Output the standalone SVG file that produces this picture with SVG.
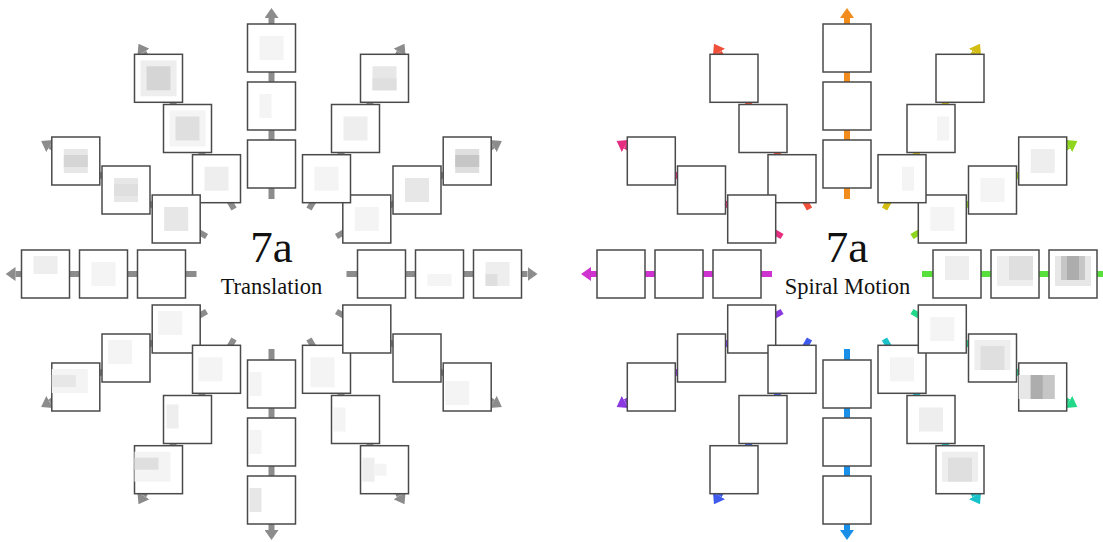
<svg xmlns="http://www.w3.org/2000/svg" width="1103" height="542" viewBox="0 0 1103 542">
<style>
.b{fill:#fff;stroke:#4a4a4a;stroke-width:1.5}
.c{stroke-width:6;fill:none}
.g1{fill:#f4f4f4}.g2{fill:#eeeeee}.g3{fill:#e7e7e7}.g4{fill:#dfdfdf}.g5{fill:#d5d5d5}.g6{fill:#c6c6c6}.g7{fill:#adadad}
.big{font-family:"Liberation Serif","Times New Roman",serif;font-size:45px;text-anchor:middle;fill:#111}
.lab{font-family:"Liberation Serif","Times New Roman",serif;font-size:22.5px;text-anchor:middle;fill:#111}
</style>
<defs>
<marker id="mg" markerUnits="userSpaceOnUse" markerWidth="10" markerHeight="14" viewBox="0 0 10 14" refX="0" refY="7" orient="auto"><path d="M0,0 L10,7 L0,14z" fill="#8c8c8c"/></marker>
<marker id="m0" markerUnits="userSpaceOnUse" markerWidth="10" markerHeight="14" viewBox="0 0 10 14" refX="0" refY="7" orient="auto"><path d="M0,0 L10,7 L0,14z" fill="#57e03c"/></marker>
<marker id="m30" markerUnits="userSpaceOnUse" markerWidth="10" markerHeight="14" viewBox="0 0 10 14" refX="0" refY="7" orient="auto"><path d="M0,0 L10,7 L0,14z" fill="#8ed61c"/></marker>
<marker id="m60" markerUnits="userSpaceOnUse" markerWidth="10" markerHeight="14" viewBox="0 0 10 14" refX="0" refY="7" orient="auto"><path d="M0,0 L10,7 L0,14z" fill="#d2bd10"/></marker>
<marker id="m90" markerUnits="userSpaceOnUse" markerWidth="10" markerHeight="14" viewBox="0 0 10 14" refX="0" refY="7" orient="auto"><path d="M0,0 L10,7 L0,14z" fill="#f28c1c"/></marker>
<marker id="m120" markerUnits="userSpaceOnUse" markerWidth="10" markerHeight="14" viewBox="0 0 10 14" refX="0" refY="7" orient="auto"><path d="M0,0 L10,7 L0,14z" fill="#f0503a"/></marker>
<marker id="m150" markerUnits="userSpaceOnUse" markerWidth="10" markerHeight="14" viewBox="0 0 10 14" refX="0" refY="7" orient="auto"><path d="M0,0 L10,7 L0,14z" fill="#e62e80"/></marker>
<marker id="m180" markerUnits="userSpaceOnUse" markerWidth="10" markerHeight="14" viewBox="0 0 10 14" refX="0" refY="7" orient="auto"><path d="M0,0 L10,7 L0,14z" fill="#cf33cf"/></marker>
<marker id="m210" markerUnits="userSpaceOnUse" markerWidth="10" markerHeight="14" viewBox="0 0 10 14" refX="0" refY="7" orient="auto"><path d="M0,0 L10,7 L0,14z" fill="#8a3ae0"/></marker>
<marker id="m240" markerUnits="userSpaceOnUse" markerWidth="10" markerHeight="14" viewBox="0 0 10 14" refX="0" refY="7" orient="auto"><path d="M0,0 L10,7 L0,14z" fill="#3f5bee"/></marker>
<marker id="m270" markerUnits="userSpaceOnUse" markerWidth="10" markerHeight="14" viewBox="0 0 10 14" refX="0" refY="7" orient="auto"><path d="M0,0 L10,7 L0,14z" fill="#1a8fe8"/></marker>
<marker id="m300" markerUnits="userSpaceOnUse" markerWidth="10" markerHeight="14" viewBox="0 0 10 14" refX="0" refY="7" orient="auto"><path d="M0,0 L10,7 L0,14z" fill="#19c2c8"/></marker>
<marker id="m330" markerUnits="userSpaceOnUse" markerWidth="10" markerHeight="14" viewBox="0 0 10 14" refX="0" refY="7" orient="auto"><path d="M0,0 L10,7 L0,14z" fill="#22d98a"/></marker>
</defs>
<rect width="1103" height="542" fill="#fff"/>

<g id="connectors">
<g transform="translate(271.5 274)" stroke="#8c8c8c">
<line class="c" x1="75" y1="0" x2="256" y2="0" transform="rotate(0)" marker-end="url(#mg)"/>
<line class="c" x1="75" y1="0" x2="256" y2="0" transform="rotate(-30)" marker-end="url(#mg)"/>
<line class="c" x1="75" y1="0" x2="256" y2="0" transform="rotate(-60)" marker-end="url(#mg)"/>
<line class="c" x1="75" y1="0" x2="256" y2="0" transform="rotate(-90)" marker-end="url(#mg)"/>
<line class="c" x1="75" y1="0" x2="256" y2="0" transform="rotate(-120)" marker-end="url(#mg)"/>
<line class="c" x1="75" y1="0" x2="256" y2="0" transform="rotate(-150)" marker-end="url(#mg)"/>
<line class="c" x1="75" y1="0" x2="256" y2="0" transform="rotate(-180)" marker-end="url(#mg)"/>
<line class="c" x1="75" y1="0" x2="256" y2="0" transform="rotate(-210)" marker-end="url(#mg)"/>
<line class="c" x1="75" y1="0" x2="256" y2="0" transform="rotate(-240)" marker-end="url(#mg)"/>
<line class="c" x1="75" y1="0" x2="256" y2="0" transform="rotate(-270)" marker-end="url(#mg)"/>
<line class="c" x1="75" y1="0" x2="256" y2="0" transform="rotate(-300)" marker-end="url(#mg)"/>
<line class="c" x1="75" y1="0" x2="256" y2="0" transform="rotate(-330)" marker-end="url(#mg)"/>
</g>
<g transform="translate(847 274)">
<line class="c" stroke="#57e03c" x1="75" y1="0" x2="256" y2="0" transform="rotate(0)" marker-end="url(#m0)"/>
<line class="c" stroke="#8ed61c" x1="75" y1="0" x2="256" y2="0" transform="rotate(-30)" marker-end="url(#m30)"/>
<line class="c" stroke="#d2bd10" x1="75" y1="0" x2="256" y2="0" transform="rotate(-60)" marker-end="url(#m60)"/>
<line class="c" stroke="#f28c1c" x1="75" y1="0" x2="256" y2="0" transform="rotate(-90)" marker-end="url(#m90)"/>
<line class="c" stroke="#f0503a" x1="75" y1="0" x2="256" y2="0" transform="rotate(-120)" marker-end="url(#m120)"/>
<line class="c" stroke="#e62e80" x1="75" y1="0" x2="256" y2="0" transform="rotate(-150)" marker-end="url(#m150)"/>
<line class="c" stroke="#cf33cf" x1="75" y1="0" x2="256" y2="0" transform="rotate(-180)" marker-end="url(#m180)"/>
<line class="c" stroke="#8a3ae0" x1="75" y1="0" x2="256" y2="0" transform="rotate(-210)" marker-end="url(#m210)"/>
<line class="c" stroke="#3f5bee" x1="75" y1="0" x2="256" y2="0" transform="rotate(-240)" marker-end="url(#m240)"/>
<line class="c" stroke="#1a8fe8" x1="75" y1="0" x2="256" y2="0" transform="rotate(-270)" marker-end="url(#m270)"/>
<line class="c" stroke="#19c2c8" x1="75" y1="0" x2="256" y2="0" transform="rotate(-300)" marker-end="url(#m300)"/>
<line class="c" stroke="#22d98a" x1="75" y1="0" x2="256" y2="0" transform="rotate(-330)" marker-end="url(#m330)"/>
</g>
</g>

<!-- Left panel: Translation -->
<g id="t0-3"><rect class="b" x="473.5" y="250" width="48" height="48"/><rect class="g2" x="485.5" y="262" width="24" height="24"/><rect class="g4" x="485.5" y="274" width="12" height="12"/></g>
<g id="t0-2"><rect class="b" x="415.5" y="250" width="48" height="48"/><rect class="g1" x="427.5" y="274" width="24" height="12"/></g>
<g id="t0-1"><rect class="b" x="357.5" y="250" width="48" height="48"/></g>

<g id="t30-3"><rect class="b" x="443.2" y="137" width="48" height="48"/><rect class="g4" x="455.2" y="149" width="24" height="24"/><rect class="g6" x="455.2" y="155" width="24" height="12"/></g>
<g id="t30-2"><rect class="b" x="393" y="166" width="48" height="48"/><rect class="g3" x="405" y="178" width="24" height="24"/></g>
<g id="t30-1"><rect class="b" x="342.8" y="195" width="48" height="48"/><rect class="g1" x="354.8" y="207" width="24" height="24"/></g>

<g id="t60-3"><rect class="b" x="360.5" y="54.3" width="48" height="48"/><rect class="g3" x="372.5" y="66.3" width="24" height="24"/><rect class="g4" x="372.5" y="78.3" width="24" height="12"/></g>
<g id="t60-2"><rect class="b" x="331.5" y="104.5" width="48" height="48"/><rect class="g2" x="343.5" y="116.5" width="24" height="24"/></g>
<g id="t60-1"><rect class="b" x="302.5" y="154.7" width="48" height="48"/><rect class="g1" x="314.5" y="166.7" width="24" height="24"/></g>

<g id="t90-3"><rect class="b" x="247.5" y="24" width="48" height="48"/><rect class="g1" x="259.5" y="36" width="24" height="24"/></g>
<g id="t90-2"><rect class="b" x="247.5" y="82" width="48" height="48"/><rect class="g1" x="259.5" y="94" width="12" height="24"/></g>
<g id="t90-1"><rect class="b" x="247.5" y="140" width="48" height="48"/></g>

<g id="t120-3"><rect class="b" x="134.5" y="54.3" width="48" height="48"/><rect class="g2" x="140.5" y="60.3" width="36" height="36"/><rect class="g5" x="146.5" y="66.3" width="24" height="24"/></g>
<g id="t120-2"><rect class="b" x="163.5" y="104.5" width="48" height="48"/><rect class="g1" x="169.5" y="110.5" width="36" height="36"/><rect class="g4" x="175.5" y="116.5" width="24" height="24"/></g>
<g id="t120-1"><rect class="b" x="192.5" y="154.7" width="48" height="48"/><rect class="g2" x="204.5" y="166.7" width="24" height="24"/></g>

<g id="t150-3"><rect class="b" x="51.8" y="137" width="48" height="48"/><rect class="g3" x="63.8" y="149" width="24" height="24"/><rect class="g5" x="63.8" y="155" width="24" height="12"/></g>
<g id="t150-2"><rect class="b" x="102" y="166" width="48" height="48"/><rect class="g3" x="114" y="178" width="24" height="24"/><rect class="g4" x="114" y="184" width="24" height="12"/></g>
<g id="t150-1"><rect class="b" x="152.2" y="195" width="48" height="48"/><rect class="g3" x="164.2" y="207" width="24" height="24"/></g>

<g id="t180-3"><rect class="b" x="21.5" y="250" width="48" height="48"/><rect class="g2" x="33.5" y="256" width="24" height="18"/></g>
<g id="t180-2"><rect class="b" x="79.5" y="250" width="48" height="48"/><rect class="g1" x="91.5" y="262" width="24" height="24"/></g>
<g id="t180-1"><rect class="b" x="137.5" y="250" width="48" height="48"/></g>

<g id="t210-3"><rect class="b" x="51.8" y="363" width="48" height="48"/><rect class="g1" x="51.8" y="369" width="36" height="24"/><rect class="g3" x="51.8" y="375" width="24" height="12"/></g>
<g id="t210-2"><rect class="b" x="102" y="334" width="48" height="48"/><rect class="g1" x="108" y="340" width="24" height="24"/></g>
<g id="t210-1"><rect class="b" x="152.2" y="305" width="48" height="48"/><rect class="g1" x="158.2" y="311" width="24" height="24"/></g>

<g id="t240-3"><rect class="b" x="134.5" y="445.7" width="48" height="48"/><rect class="g1" x="134.5" y="451.7" width="36" height="30"/><rect class="g4" x="134.5" y="457.7" width="24" height="12"/></g>
<g id="t240-2"><rect class="b" x="163.5" y="395.5" width="48" height="48"/><rect class="g2" x="166.5" y="404.5" width="12" height="24"/></g>
<g id="t240-1"><rect class="b" x="192.5" y="345.3" width="48" height="48"/><rect class="g1" x="198.5" y="357.3" width="24" height="24"/></g>

<g id="t270-3"><rect class="b" x="247.5" y="476" width="48" height="48"/><rect class="g3" x="249.5" y="488" width="12" height="24"/></g>
<g id="t270-2"><rect class="b" x="247.5" y="418" width="48" height="48"/><rect class="g1" x="249.5" y="430" width="12" height="24"/></g>
<g id="t270-1"><rect class="b" x="247.5" y="360" width="48" height="48"/><rect class="g1" x="249.5" y="372" width="12" height="24"/></g>

<g id="t300-3"><rect class="b" x="360.5" y="445.7" width="48" height="48"/><rect class="g2" x="362.5" y="457.7" width="12" height="24"/><rect class="g1" x="374.5" y="463.7" width="12" height="12"/></g>
<g id="t300-2"><rect class="b" x="331.5" y="395.5" width="48" height="48"/><rect class="g1" x="333.5" y="407.5" width="12" height="24"/></g>
<g id="t300-1"><rect class="b" x="302.5" y="345.3" width="48" height="48"/><rect class="g1" x="310.5" y="357.3" width="24" height="30"/></g>

<g id="t330-3"><rect class="b" x="443.2" y="363" width="48" height="48"/><rect class="g1" x="445.2" y="381" width="24" height="24"/></g>
<g id="t330-2"><rect class="b" x="393" y="334" width="48" height="48"/></g>
<g id="t330-1"><rect class="b" x="342.8" y="305" width="48" height="48"/></g>

<!-- Right panel: Spiral Motion -->
<g id="s0-3"><rect class="b" x="1049" y="250" width="48" height="48"/><rect class="g3" x="1055" y="256" width="36" height="30"/><rect class="g6" x="1061" y="256" width="24" height="24"/><rect class="g7" x="1067" y="256" width="12" height="24"/></g>
<g id="s0-2"><rect class="b" x="991" y="250" width="48" height="48"/><rect class="g2" x="997" y="256" width="36" height="30"/><rect class="g4" x="1009" y="256" width="24" height="24"/></g>
<g id="s0-1"><rect class="b" x="933" y="250" width="48" height="48"/><rect class="g2" x="945" y="256" width="24" height="24"/></g>

<g id="s30-3"><rect class="b" x="1018.7" y="137" width="48" height="48"/><rect class="g2" x="1030.7" y="149" width="24" height="24"/></g>
<g id="s30-2"><rect class="b" x="968.5" y="166" width="48" height="48"/><rect class="g1" x="980.5" y="178" width="24" height="24"/></g>
<g id="s30-1"><rect class="b" x="918.3" y="195" width="48" height="48"/><rect class="g1" x="930.3" y="207" width="24" height="24"/></g>

<g id="s60-3"><rect class="b" x="936" y="54.3" width="48" height="48"/></g>
<g id="s60-2"><rect class="b" x="907" y="104.5" width="48" height="48"/><rect class="g1" x="937" y="116.5" width="12" height="24"/></g>
<g id="s60-1"><rect class="b" x="878" y="154.7" width="48" height="48"/><rect class="g1" x="902" y="166.7" width="12" height="24"/></g>

<g id="s90-3"><rect class="b" x="823" y="24" width="48" height="48"/></g>
<g id="s90-2"><rect class="b" x="823" y="82" width="48" height="48"/></g>
<g id="s90-1"><rect class="b" x="823" y="140" width="48" height="48"/></g>

<g id="s120-3"><rect class="b" x="710" y="54.3" width="48" height="48"/></g>
<g id="s120-2"><rect class="b" x="739" y="104.5" width="48" height="48"/></g>
<g id="s120-1"><rect class="b" x="768" y="154.7" width="48" height="48"/></g>

<g id="s150-3"><rect class="b" x="627.3" y="137" width="48" height="48"/></g>
<g id="s150-2"><rect class="b" x="677.5" y="166" width="48" height="48"/></g>
<g id="s150-1"><rect class="b" x="727.7" y="195" width="48" height="48"/></g>

<g id="s180-3"><rect class="b" x="597" y="250" width="48" height="48"/></g>
<g id="s180-2"><rect class="b" x="655" y="250" width="48" height="48"/></g>
<g id="s180-1"><rect class="b" x="713" y="250" width="48" height="48"/></g>

<g id="s210-3"><rect class="b" x="627.3" y="363" width="48" height="48"/></g>
<g id="s210-2"><rect class="b" x="677.5" y="334" width="48" height="48"/></g>
<g id="s210-1"><rect class="b" x="727.7" y="305" width="48" height="48"/></g>

<g id="s240-3"><rect class="b" x="710" y="445.7" width="48" height="48"/></g>
<g id="s240-2"><rect class="b" x="739" y="395.5" width="48" height="48"/></g>
<g id="s240-1"><rect class="b" x="768" y="345.3" width="48" height="48"/></g>

<g id="s270-3"><rect class="b" x="823" y="476" width="48" height="48"/></g>
<g id="s270-2"><rect class="b" x="823" y="418" width="48" height="48"/></g>
<g id="s270-1"><rect class="b" x="823" y="360" width="48" height="48"/></g>

<g id="s300-3"><rect class="b" x="936" y="445.7" width="48" height="48"/><rect class="g2" x="942" y="451.7" width="36" height="30"/><rect class="g4" x="948" y="457.7" width="24" height="24"/></g>
<g id="s300-2"><rect class="b" x="907" y="395.5" width="48" height="48"/><rect class="g2" x="919" y="407.5" width="24" height="24"/></g>
<g id="s300-1"><rect class="b" x="878" y="345.3" width="48" height="48"/><rect class="g1" x="890" y="357.3" width="24" height="24"/></g>

<g id="s330-3"><rect class="b" x="1018.7" y="363" width="48" height="48"/><rect class="g3" x="1018.7" y="375" width="36" height="24"/><rect class="g6" x="1030.7" y="375" width="24" height="24"/><rect class="g7" x="1030.7" y="375" width="12" height="24"/></g>
<g id="s330-2"><rect class="b" x="968.5" y="334" width="48" height="48"/><rect class="g2" x="974.5" y="340" width="36" height="30"/><rect class="g4" x="980.5" y="346" width="24" height="24"/></g>
<g id="s330-1"><rect class="b" x="918.3" y="305" width="48" height="48"/><rect class="g1" x="930.3" y="317" width="24" height="24"/></g>

<g id="labels">
<text class="big" x="271.5" y="262">7a</text>
<text class="lab" x="271.5" y="294">Translation</text>
<text class="big" x="847" y="262">7a</text>
<text class="lab" x="847.5" y="294">Spiral Motion</text>
</g>
</svg>
